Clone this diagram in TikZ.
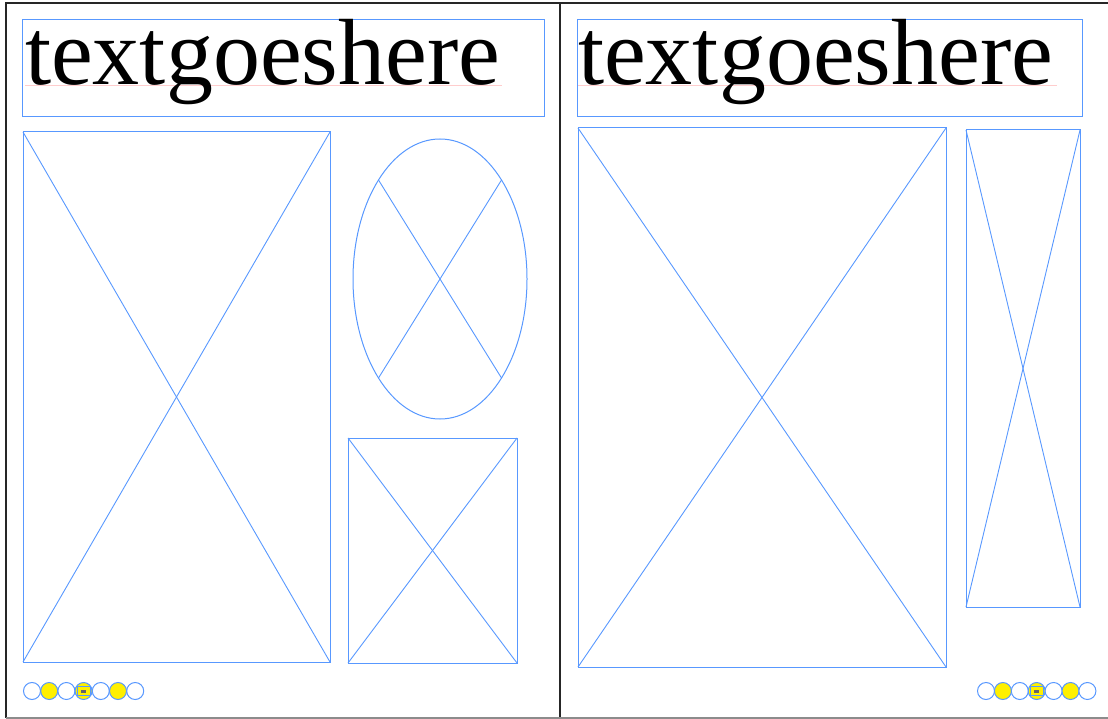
\documentclass[tikz,border=0pt]{standalone}
\usepackage{fontspec}
\setmainfont{Liberation Serif}
\usetikzlibrary{shapes.geometric,calc}
\definecolor{wfblue}{RGB}{88,152,255}
\definecolor{wfyellow}{RGB}{255,240,0}
\definecolor{wfpink}{RGB}{255,205,205}
\tikzset{
  wf/.style={draw=wfblue, line width=1pt, inner sep=0pt, outer sep=0pt},
  wfbox/.style={wf, rectangle, anchor=north west},
  wfline/.style={draw=wfblue, line width=0.9pt},
  frameline/.style={draw=black!85, line width=1.6pt},
  titletext/.style={inner sep=0pt, outer sep=0pt, anchor=base west,
    font=\fontsize{94}{100}\selectfont},
  squiggle/.style={draw=wfpink, line width=1pt},
  dot/.style={wf, circle, minimum size=17pt, fill=white},
  dotfull/.style={dot, fill=wfyellow},
}
\begin{document}
\begin{tikzpicture}[x=1pt,y=-1pt]
\useasboundingbox (0,0) rectangle (1108,719);
% frame
\coordinate (ftl) at (6,3);
\coordinate (ftr) at (1108,3);
\coordinate (fbl) at (6,718);
\coordinate (fbr) at (1108,718);
\coordinate (fmt) at (560,3);
\coordinate (fmb) at (560,718);
\draw[frameline] (ftr) -- (ftl) -- (fbl);
\draw[frameline] (fmt) -- (fmb);
\draw[draw=black!45, line width=1.2pt] (fbl) -- (fbr);

% ---------- left panel ----------
\node[wfbox, minimum width=522pt, minimum height=97pt] (lt) at (22,20) {};
\coordinate (lsqa) at (25,86);
\coordinate (lsqb) at (502,86);
\draw[squiggle] (lsqa) -- (lsqb);
\node[titletext] (ltt) at (25,85) {textgoeshere};

\node[wfbox, minimum width=307pt, minimum height=530pt] (lbig) at (23,132) {};
\draw[wfline] (lbig.north west) -- (lbig.south east);
\draw[wfline] (lbig.north east) -- (lbig.south west);

\node[wf, ellipse, minimum width=174pt, minimum height=280pt] (ell) at (440,279) {};
\coordinate (ea) at ($(ell.center)+(-61.5,-99)$);
\coordinate (eb) at ($(ell.center)+(61.5,99)$);
\coordinate (ec) at ($(ell.center)+(61.5,-99)$);
\coordinate (ed) at ($(ell.center)+(-61.5,99)$);
\draw[wfline] (ea) -- (eb);
\draw[wfline] (ec) -- (ed);

\node[wfbox, minimum width=169pt, minimum height=225pt] (lsm) at (348,438) {};
\draw[wfline] (lsm.north west) -- (lsm.south east);
\draw[wfline] (lsm.north east) -- (lsm.south west);

% dots left
\foreach \i in {0,...,6} {
  \pgfmathtruncatemacro{\odd}{mod(\i,2)}
  \ifnum\odd=1
    \node[dotfull] (ld\i) at (32+17.2*\i,691) {};
  \else
    \node[dot] (ld\i) at (32+17.2*\i,691) {};
  \fi
}
\node[wf, rectangle, fill=wfyellow, minimum width=13pt, minimum height=9pt] (lcam) at (ld3.center) {};
\node[rectangle, fill=black!60, minimum width=5pt, minimum height=3pt, inner sep=0pt] (lcamd) at (lcam.center) {};

% ---------- right panel ----------
\node[wfbox, minimum width=505pt, minimum height=97pt] (rt) at (577,20) {};
\coordinate (rsqa) at (578,86);
\coordinate (rsqb) at (1057,86);
\draw[squiggle] (rsqa) -- (rsqb);
\node[titletext] (rtt) at (578,85) {textgoeshere};

\node[wfbox, minimum width=368pt, minimum height=539pt] (rbig) at (578,128) {};
\draw[wfline] (rbig.north west) -- (rbig.south east);
\draw[wfline] (rbig.north east) -- (rbig.south west);

\node[wfbox, minimum width=114pt, minimum height=477pt] (rtall) at (966,130) {};
\draw[wfline] (rtall.north west) -- (rtall.south east);
\draw[wfline] (rtall.north east) -- (rtall.south west);

% dots right
\foreach \i in {0,...,6} {
  \pgfmathtruncatemacro{\odd}{mod(\i,2)}
  \ifnum\odd=1
    \node[dotfull] (rd\i) at (986+16.9*\i,691) {};
  \else
    \node[dot] (rd\i) at (986+16.9*\i,691) {};
  \fi
}
\node[wf, rectangle, fill=wfyellow, minimum width=13pt, minimum height=9pt] (rcam) at (rd3.center) {};
\node[rectangle, fill=black!60, minimum width=5pt, minimum height=3pt, inner sep=0pt] (rcamd) at (rcam.center) {};
\end{tikzpicture}
\end{document}
